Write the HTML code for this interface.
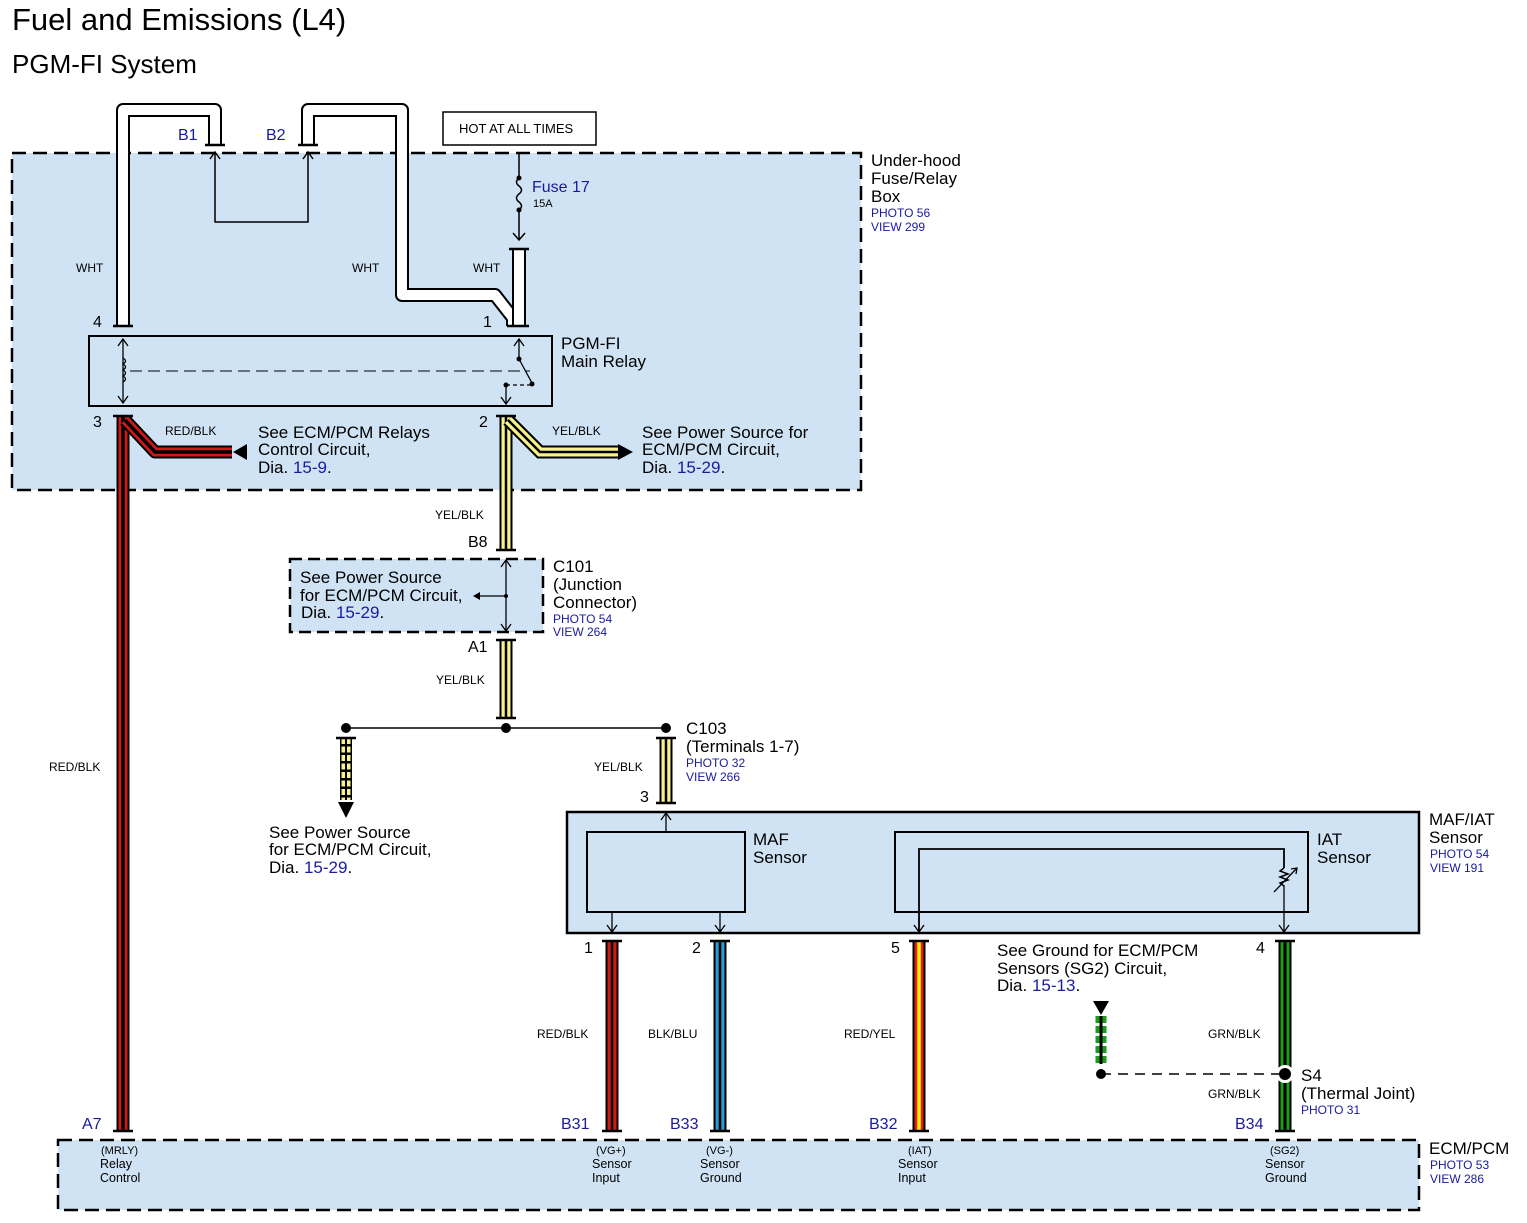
<!DOCTYPE html>
<html><head><meta charset="utf-8"><style>
body{margin:0;background:#fff}
svg{display:block}
text{font-family:"Liberation Sans",sans-serif;fill:#000}
.b{fill:#1a1aa0}
.s{font-size:12px}
.m{font-size:16px}
.l{font-size:17px}
</style></head><body>
<svg width="1527" height="1223" viewBox="0 0 1527 1223" xmlns="http://www.w3.org/2000/svg">
<text x="12" y="30" font-size="31">Fuel and Emissions (L4)</text>
<text x="12" y="73" font-size="26">PGM-FI System</text>

<!-- boxes -->
<rect x="12" y="153" width="849" height="337" fill="#d0e3f4" stroke="#000" stroke-width="2.5" stroke-dasharray="14,7"/>
<rect x="290" y="559" width="253" height="73" fill="#d0e3f4" stroke="#000" stroke-width="2.5" stroke-dasharray="12,6"/>
<rect x="567" y="812" width="852" height="121" fill="#d0e3f4" stroke="#000" stroke-width="2.5"/>
<rect x="58" y="1140" width="1361" height="70" fill="#d0e3f4" stroke="#000" stroke-width="2.5" stroke-dasharray="14,7"/>
<rect x="443" y="112" width="153" height="33" fill="#fff" stroke="#000" stroke-width="1.5"/>
<text x="459" y="133" font-size="13">HOT AT ALL TIMES</text>

<!-- relay -->
<rect x="89" y="336" width="463" height="70" fill="none" stroke="#000" stroke-width="2"/>
<line x1="130" y1="371" x2="530" y2="371" stroke="#000" stroke-width="1" stroke-dasharray="12,6"/>
<g fill="none" stroke="#000" stroke-width="1.3">
<line x1="123" y1="340" x2="123" y2="402"/><path d="M118,346 L123,339 L128,346 M118,396 L123,403 L128,396"/>
<path d="M123,358 q5,3 0,6 q5,3 0,6 q5,3 0,6 q5,3 0,6"/>
<line x1="519" y1="340" x2="519" y2="359"/><path d="M514,346 L519,339 L524,346"/>
<line x1="519" y1="359" x2="532" y2="383"/>
<path d="M506,385 L530,385" stroke-dasharray="4,3"/>
<line x1="506" y1="385" x2="506" y2="403"/><path d="M501,397 L506,404 L511,397"/>
</g>
<circle cx="519" cy="359" r="2.5"/><circle cx="532" cy="384" r="2.5"/><circle cx="506" cy="385" r="2.5"/>

<!-- thin B1/B2 loop -->
<g fill="none" stroke="#000" stroke-width="1.5">
<polyline points="215,152 215,222 308,222 308,152"/>
<path d="M210,159 L215,152 L220,159 M303,159 L308,152 L313,159"/>
<!-- fuse -->
<line x1="519" y1="153" x2="519" y2="178"/>
<path d="M519,178 q-5,4 0,8 q5,4 0,8 q-5,4 0,8 q5,4 0,8"/>
<line x1="519" y1="210" x2="519" y2="240"/><path d="M513,233 L519,240 L525,233"/>
</g>
<circle cx="519" cy="178" r="2.5"/><circle cx="519" cy="210" r="2.5"/>
<text class="b" x="532" y="192" font-size="16">Fuse 17</text>
<text x="533" y="207" font-size="11">15A</text>

<!-- WHT wires -->
<g fill="none" stroke-linejoin="round">
<polyline points="123,326 123,110 215,110 215,145" stroke="#000" stroke-width="14"/>
<polyline points="123,326 123,110 215,110 215,145" stroke="#fff" stroke-width="10"/>
<polyline points="308,145 308,110 402,110 402,295 495,295 513,318 513,326" stroke="#000" stroke-width="14"/>
<polyline points="308,145 308,110 402,110 402,295 495,295 513,318 513,326" stroke="#fff" stroke-width="10"/>
<line x1="519" y1="250" x2="519" y2="326" stroke="#000" stroke-width="14"/>
<line x1="519" y1="250" x2="519" y2="326" stroke="#fff" stroke-width="10"/>
</g>
<g stroke="#000" stroke-width="2.5">
<line x1="113" y1="326" x2="133" y2="326"/><line x1="205" y1="145" x2="225" y2="145"/>
<line x1="298" y1="145" x2="318" y2="145"/><line x1="509" y1="249" x2="529" y2="249"/><line x1="507" y1="326" x2="529" y2="326"/>
</g>

<!-- RED/BLK main -->
<g fill="none">
<polyline points="123,416 123,1130" stroke="#000" stroke-width="13"/>
<polyline points="123,416 123,1130" stroke="#d01818" stroke-width="9"/>
<polyline points="123,416 123,1130" stroke="#000" stroke-width="3.5"/>
<polyline points="125,420 155,452 232,452" stroke="#000" stroke-width="13" stroke-linejoin="round"/>
<polyline points="125,420 155,452 232,452" stroke="#d01818" stroke-width="9"/>
<polyline points="125,420 155,452 232,452" stroke="#000" stroke-width="3.5"/>
<!-- YEL/BLK -->
<polyline points="506,416 506,550" stroke="#000" stroke-width="13"/>
<polyline points="506,416 506,550" stroke="#f7f28a" stroke-width="9"/>
<polyline points="506,416 506,550" stroke="#000" stroke-width="2.5"/>
<polyline points="508,420 540,452 620,452" stroke="#000" stroke-width="13"/>
<polyline points="508,420 540,452 620,452" stroke="#f7f28a" stroke-width="9"/>
<polyline points="508,420 540,452 620,452" stroke="#000" stroke-width="2.5"/>
<polyline points="506,640 506,718" stroke="#000" stroke-width="13"/>
<polyline points="506,640 506,718" stroke="#f7f28a" stroke-width="9"/>
<polyline points="506,640 506,718" stroke="#000" stroke-width="2.5"/>
<polyline points="666,738 666,803" stroke="#000" stroke-width="13"/>
<polyline points="666,738 666,803" stroke="#f7f28a" stroke-width="9"/>
<polyline points="666,738 666,803" stroke="#000" stroke-width="2.5"/>
<!-- dashed yellow -->
<polyline points="346,738 346,800" stroke="#000" stroke-width="12"/>
<polyline points="346,738 346,800" stroke="#f7f28a" stroke-width="9" stroke-dasharray="6,2.5"/>
<polyline points="346,738 346,800" stroke="#000" stroke-width="2"/>
<!-- sensor wires -->
<polyline points="612,942 612,1130" stroke="#000" stroke-width="13"/>
<polyline points="612,942 612,1130" stroke="#d01818" stroke-width="9"/>
<polyline points="612,942 612,1130" stroke="#000" stroke-width="2.5"/>
<polyline points="720,942 720,1130" stroke="#000" stroke-width="13"/>
<polyline points="720,942 720,1130" stroke="#2a9ad0" stroke-width="9"/>
<polyline points="720,942 720,1130" stroke="#000" stroke-width="2.5"/>
<polyline points="919,942 919,1130" stroke="#000" stroke-width="13"/>
<polyline points="919,942 919,1130" stroke="#e02020" stroke-width="9"/>
<polyline points="919,942 919,1130" stroke="#fff200" stroke-width="3.5"/>
<polyline points="1285,942 1285,1130" stroke="#000" stroke-width="13"/>
<polyline points="1285,942 1285,1130" stroke="#1e9a1e" stroke-width="9"/>
<polyline points="1285,942 1285,1130" stroke="#000" stroke-width="3"/>
<polyline points="1101,1016 1101,1064" stroke="#1e9a1e" stroke-width="11" stroke-dasharray="7,3"/>
<polyline points="1101,1016 1101,1064" stroke="#000" stroke-width="3"/>
</g>
<circle cx="1285" cy="1074" r="9" fill="#fff"/>
<!-- arrows -->
<path d="M233,452 L247,444 L247,460 Z"/>
<path d="M618,444 L633,452 L618,460 Z"/>
<path d="M338,802 L354,802 L346,818 Z"/>
<path d="M1093,1001 L1109,1001 L1101,1015 Z"/>
<!-- connector caps -->
<g stroke="#000" stroke-width="2.5">
<line x1="113" y1="416" x2="133" y2="416"/><line x1="496" y1="416" x2="516" y2="416"/>
<line x1="496" y1="550" x2="516" y2="550"/><line x1="496" y1="640" x2="516" y2="640"/>
<line x1="496" y1="718" x2="516" y2="718"/><line x1="656" y1="738" x2="676" y2="738"/>
<line x1="656" y1="803" x2="676" y2="803"/><line x1="336" y1="738" x2="356" y2="738"/>
<line x1="113" y1="1131" x2="133" y2="1131"/>
<line x1="602" y1="941" x2="622" y2="941"/><line x1="710" y1="941" x2="730" y2="941"/>
<line x1="909" y1="941" x2="929" y2="941"/><line x1="1275" y1="941" x2="1295" y2="941"/>
<line x1="602" y1="1131" x2="622" y2="1131"/><line x1="710" y1="1131" x2="730" y2="1131"/>
<line x1="909" y1="1131" x2="929" y2="1131"/><line x1="1275" y1="1131" x2="1295" y2="1131"/>
</g>
<!-- C101 internals -->
<g fill="none" stroke="#000" stroke-width="1.3">
<line x1="506" y1="561" x2="506" y2="630"/><path d="M501,567 L506,560 L511,567 M501,624 L506,631 L511,624"/>
<line x1="506" y1="596" x2="476" y2="596"/>
</g>
<path d="M473,596 L480,592 L480,600 Z"/><circle cx="506" cy="596" r="2"/>
<!-- junction line -->
<line x1="346" y1="728" x2="666" y2="728" stroke="#000" stroke-width="1.5"/>
<circle cx="346" cy="728" r="5"/><circle cx="506" cy="728" r="5"/><circle cx="666" cy="728" r="5"/>
<!-- MAF/IAT internals -->
<g fill="none" stroke="#000" stroke-width="2">
<rect x="587" y="832" width="158" height="80"/>
<rect x="895" y="832" width="413" height="80"/>
</g>
<g fill="none" stroke="#000" stroke-width="1.3">
<line x1="666" y1="832" x2="666" y2="813"/><path d="M661,820 L666,813 L671,820"/>
<line x1="612" y1="912" x2="612" y2="931"/><path d="M607,925 L612,932 L617,925"/>
<line x1="720" y1="912" x2="720" y2="931"/><path d="M715,925 L720,932 L725,925"/>
<polyline points="919,931 919,849 1284,849 1284,868" stroke-width="1.8"/>
<path d="M1284,868 l-4,3 l8,3 l-8,3 l8,3 l-8,3 l4,3" stroke-width="1.5"/>
<line x1="1284" y1="885" x2="1284" y2="931"/>
<path d="M914,925 L919,932 L924,925 M1279,925 L1284,932 L1289,925"/>
<line x1="1274" y1="892" x2="1297" y2="868"/><path d="M1291,869 L1297,868 L1296,874"/>
</g>
<!-- S4 -->
<line x1="1101" y1="1074" x2="1285" y2="1074" stroke="#000" stroke-width="1.5" stroke-dasharray="10,7"/>
<circle cx="1101" cy="1074" r="5"/><circle cx="1285" cy="1074" r="6"/>

<!-- labels -->
<text class="b m" x="178" y="140">B1</text><text class="b m" x="266" y="140">B2</text>
<text class="s" x="76" y="272">WHT</text><text class="s" x="352" y="272">WHT</text><text class="s" x="473" y="272">WHT</text>
<text class="m" x="93" y="327">4</text><text class="m" x="483" y="327">1</text>
<text class="m" x="93" y="427">3</text><text class="m" x="479" y="427">2</text>
<text class="l" x="561" y="349">PGM-FI</text><text class="l" x="561" y="367">Main Relay</text>
<text class="l" x="871" y="166">Under-hood</text><text class="l" x="871" y="184">Fuse/Relay</text><text class="l" x="871" y="202">Box</text>
<text class="b s" x="871" y="217">PHOTO 56</text><text class="b s" x="871" y="231">VIEW 299</text>
<text class="s" x="165" y="435">RED/BLK</text><text class="s" x="552" y="435">YEL/BLK</text>
<text class="l" x="258" y="438">See ECM/PCM Relays</text><text class="l" x="258" y="455">Control Circuit,</text>
<text class="l" x="258" y="473">Dia.  <tspan class="b">15-9</tspan>.</text>
<text class="l" x="642" y="438">See Power Source for</text><text class="l" x="642" y="455">ECM/PCM Circuit,</text>
<text class="l" x="642" y="473">Dia.  <tspan class="b">15-29</tspan>.</text>
<text class="s" x="435" y="519">YEL/BLK</text>
<text class="m" x="468" y="547">B8</text><text class="m" x="468" y="652">A1</text>
<text class="l" x="300" y="583">See Power Source</text><text class="l" x="300" y="601">for ECM/PCM Circuit,</text>
<text class="l" x="301" y="618">Dia.  <tspan class="b">15-29</tspan>.</text>
<text class="l" x="553" y="572">C101</text><text class="l" x="553" y="590">(Junction</text><text class="l" x="553" y="608">Connector)</text>
<text class="b s" x="553" y="623">PHOTO 54</text><text class="b s" x="553" y="636">VIEW 264</text>
<text class="s" x="436" y="684">YEL/BLK</text>
<text class="l" x="686" y="734">C103</text><text class="l" x="686" y="752">(Terminals 1-7)</text>
<text class="b s" x="686" y="767">PHOTO 32</text><text class="b s" x="686" y="781">VIEW 266</text>
<text class="s" x="594" y="771">YEL/BLK</text><text class="s" x="49" y="771">RED/BLK</text>
<text class="m" x="640" y="802">3</text>
<text class="l" x="269" y="838">See Power Source</text><text class="l" x="269" y="855">for ECM/PCM Circuit,</text>
<text class="l" x="269" y="873">Dia.  <tspan class="b">15-29</tspan>.</text>
<text class="l" x="753" y="845">MAF</text><text class="l" x="753" y="863">Sensor</text>
<text class="l" x="1317" y="845">IAT</text><text class="l" x="1317" y="863">Sensor</text>
<text class="l" x="1429" y="825">MAF/IAT</text><text class="l" x="1429" y="843">Sensor</text>
<text class="b s" x="1430" y="858">PHOTO 54</text><text class="b s" x="1430" y="872">VIEW 191</text>
<text class="m" x="584" y="953">1</text><text class="m" x="692" y="953">2</text><text class="m" x="891" y="953">5</text><text class="m" x="1256" y="953">4</text>
<text class="l" x="997" y="956">See Ground for ECM/PCM</text><text class="l" x="997" y="974">Sensors (SG2) Circuit,</text>
<text class="l" x="997" y="991">Dia.  <tspan class="b">15-13</tspan>.</text>
<text class="s" x="537" y="1038">RED/BLK</text><text class="s" x="648" y="1038">BLK/BLU</text><text class="s" x="844" y="1038">RED/YEL</text>
<text class="s" x="1208" y="1038">GRN/BLK</text><text class="s" x="1208" y="1098">GRN/BLK</text>
<text class="l" x="1301" y="1081">S4</text><text class="l" x="1301" y="1099">(Thermal Joint)</text>
<text class="b s" x="1301" y="1114">PHOTO 31</text>
<text class="b m" x="82" y="1129">A7</text><text class="b m" x="561" y="1129">B31</text><text class="b m" x="670" y="1129">B33</text>
<text class="b m" x="869" y="1129">B32</text><text class="b m" x="1235" y="1129">B34</text>
<text class="l" x="1429" y="1154">ECM/PCM</text>
<text class="b s" x="1430" y="1169">PHOTO 53</text><text class="b s" x="1430" y="1183">VIEW 286</text>
<g font-size="12.5">
<text x="101" y="1154" font-size="11">(MRLY)</text><text x="100" y="1168">Relay</text><text x="100" y="1182">Control</text>
<text x="596" y="1154" font-size="11">(VG+)</text><text x="592" y="1168">Sensor</text><text x="592" y="1182">Input</text>
<text x="706" y="1154" font-size="11">(VG-)</text><text x="700" y="1168">Sensor</text><text x="700" y="1182">Ground</text>
<text x="908" y="1154" font-size="11">(IAT)</text><text x="898" y="1168">Sensor</text><text x="898" y="1182">Input</text>
<text x="1270" y="1154" font-size="11">(SG2)</text><text x="1265" y="1168">Sensor</text><text x="1265" y="1182">Ground</text>
</g>
</svg>
</body></html>
